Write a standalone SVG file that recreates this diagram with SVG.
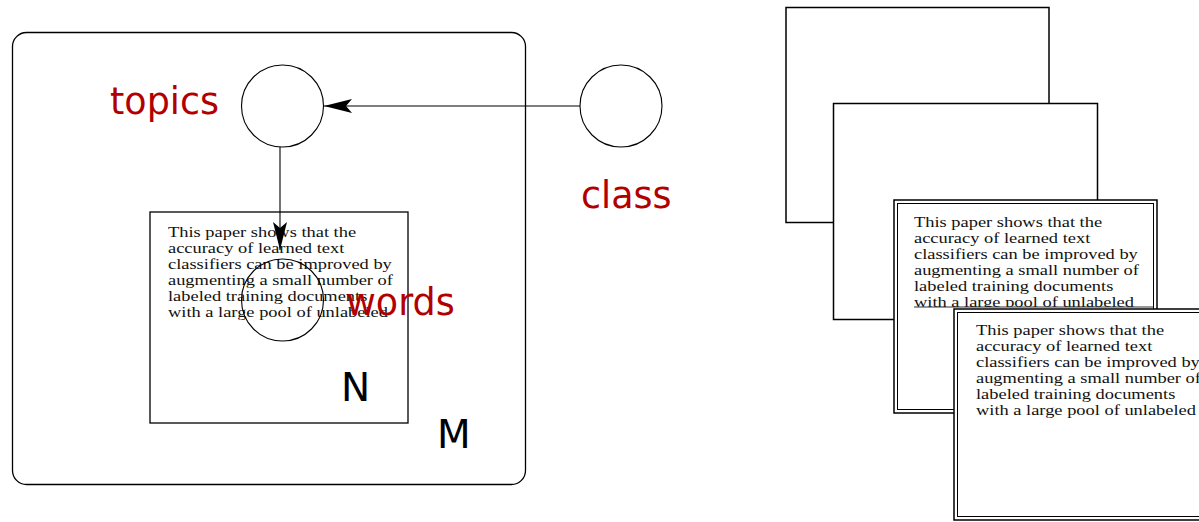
<svg xmlns="http://www.w3.org/2000/svg" xmlns:xlink="http://www.w3.org/1999/xlink" width="1199" height="522" viewBox="0 0 1199 522">
  <style>
    .plate { fill: none; stroke: #000; stroke-width: 1.3; }
    .node { fill: none; stroke: #000; stroke-width: 1.1; }
    .edge { fill: none; stroke: #000; stroke-width: 1.1; }
    .label { font-family: "DejaVu Sans", sans-serif; font-size: 36.5px; fill: #b20000; }
    .idx { font-family: "DejaVu Sans", sans-serif; font-size: 39px; fill: #000; }
    .abs { font-family: "Liberation Serif", serif; font-size: 14.5px; fill: #111; }
    .doc { fill: #fff; stroke: #000; stroke-width: 1.5; }
    .docIn { fill: none; stroke: #000; stroke-width: 1; }
  </style>
  <defs>
    <marker id="head" viewBox="0 0 28 14" refX="28" refY="7" markerWidth="28" markerHeight="14" markerUnits="userSpaceOnUse" orient="auto">
      <path d="M0,0 L28,7 L0,14 L6,7 Z" fill="#000"/>
    </marker>
    <!-- abstract text block, drawn stretched horizontally -->
    <g id="abstract" class="abs" transform="scale(1.27,1)">
      <text x="0" y="0">This paper shows that the</text>
      <text x="0" y="16">accuracy of learned text</text>
      <text x="0" y="32">classifiers can be improved by</text>
      <text x="0" y="48">augmenting a small number of</text>
      <text x="0" y="64">labeled training documents</text>
      <text x="0" y="80">with a large pool of unlabeled</text>
    </g>
    <clipPath id="doc3clip">
      <rect x="895" y="201" width="260" height="106"/>
    </clipPath>
  </defs>

  <!-- plate M -->
  <g id="plate-M">
    <rect class="plate" x="12.5" y="32.5" width="513" height="452" rx="14" ry="14"/>
    <text class="idx" x="437" y="448">M</text>
  </g>

  <!-- plate N with document text -->
  <g id="plate-N">
    <rect class="plate" x="150" y="212" width="258" height="211"/>
    <use xlink:href="#abstract" transform="translate(168,237)"/>
    <text class="idx" x="341" y="401">N</text>
  </g>

  <!-- connectors -->
  <g id="connectors">
    <line class="edge" x1="580" y1="106" x2="324" y2="106" marker-end="url(#head)"/>
    <line class="edge" x1="280" y1="147" x2="280" y2="250" marker-end="url(#head)"/>
  </g>

  <g id="node-topics">
    <circle class="node" cx="282.5" cy="106" r="41"/>
    <text class="label" x="110" y="114">topics</text>
  </g>

  <g id="node-class">
    <circle class="node" cx="621" cy="106" r="41"/>
    <text class="label" x="581" y="208">class</text>
  </g>

  <g id="node-words">
    <circle class="node" cx="282.5" cy="300" r="41"/>
    <text class="label" x="346" y="315">words</text>
  </g>

  <!-- stack of documents -->
  <g id="doc-1">
    <rect class="doc" x="786" y="7.5" width="263" height="215"/>
  </g>
  <g id="doc-2">
    <rect class="doc" x="833.5" y="103.5" width="264" height="216"/>
  </g>
  <g id="doc-3">
    <rect class="doc" x="894" y="200" width="263" height="213" stroke-width="2"/>
    <rect class="docIn" x="897.5" y="203.5" width="256" height="206"/>
    <g clip-path="url(#doc3clip)">
      <use xlink:href="#abstract" transform="translate(914,227)"/>
    </g>
    <line x1="914" y1="307" x2="1153" y2="307" stroke="#333" stroke-width="1"/>
  </g>
  <g id="doc-4">
    <rect class="doc" x="954" y="309" width="262" height="211" stroke-width="2"/>
    <rect class="docIn" x="957.5" y="312.5" width="256" height="204"/>
    <use xlink:href="#abstract" transform="translate(976,335)"/>
  </g>
</svg>
